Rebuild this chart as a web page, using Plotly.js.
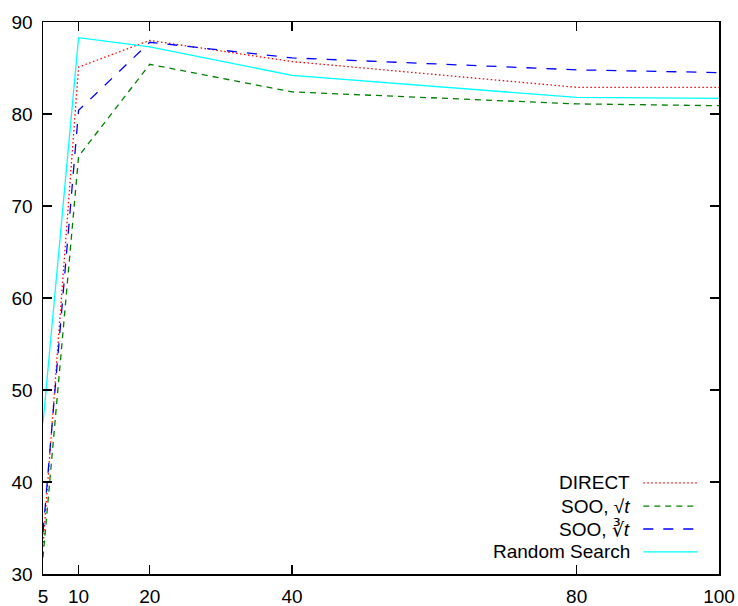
<!DOCTYPE html>
<html><head><meta charset="utf-8">
<script src="https://cdn.plot.ly/plotly-3.0.1.min.js"></script>
<style>html,body{margin:0;padding:0;background:#fff}</style>
</head><body>
<div id="chart" style="width:738px;height:606px"></div>
<script>
const xValues = [5, 10, 20, 40, 80, 100];
const directVals = [33.0, 85.1, 88.0, 85.7, 82.9, 82.9];
const sooSqrtVals = [31.8, 75.4, 85.4, 82.4, 81.1, 80.9];
const sooCbrtVals = [34.5, 80.4, 87.8, 86.1, 84.8, 84.5];
const randomVals = [46.4, 88.3, 87.3, 84.2, 81.8, 81.7];
const seriesNames = ['DIRECT', 'SOO, √<i>t</i>', 'SOO, ∛<i>t</i>', 'Random Search'];
const xTicks = [5, 10, 20, 40, 80, 100];
const yTicks = [30, 40, 50, 60, 70, 80, 90];

const styles = [
  {color: '#ff0000', dash: '1.5px,2.5px', width: 1.3},
  {color: '#008000', dash: '6px,5px', width: 1.3},
  {color: '#0000ff', dash: '10px,10px', width: 1.3},
  {color: '#00ffff', dash: 'solid', width: 1.3}
];
const allVals = [directVals, sooSqrtVals, sooCbrtVals, randomVals];

const traces = allVals.map((v, i) => ({
  x: xValues, y: v, type: 'scatter', mode: 'lines', name: seriesNames[i],
  line: styles[i], showlegend: false
}));

const FONT = 'Liberation Sans, Arial, sans-serif';
const legY = [0.165, 0.123, 0.0815, 0.040];
const annotations = seriesNames.map((n, i) => ({
  xref: 'paper', yref: 'paper', x: 0.872, y: legY[i], xanchor: 'right', yanchor: 'middle',
  text: n, showarrow: false, font: {family: FONT, size: 19, color: '#000'}
}));
const shapes = styles.map((s, i) => ({
  type: 'line', xref: 'paper', yref: 'paper', x0: 0.888, x1: 0.969, y0: legY[i], y1: legY[i],
  line: {color: s.color, dash: s.dash, width: s.width}
}));

const axisCommon = {
  showgrid: false, zeroline: false, showline: true, linecolor: '#000', linewidth: 1.5,
  mirror: 'allticks', ticks: 'inside', ticklen: 9, tickwidth: 1.2, tickcolor: '#000',
  tickfont: {family: FONT, size: 19, color: '#000'}
};

const layout = {
  width: 738, height: 606,
  margin: {l: 43, r: 19, t: 22, b: 32},
  paper_bgcolor: '#fff', plot_bgcolor: '#fff',
  xaxis: Object.assign({}, axisCommon, {range: [5, 100], tickmode: 'array', tickvals: xTicks, ticktext: xTicks.map(String), ticklabelstandoff: 5}),
  yaxis: Object.assign({}, axisCommon, {range: [30, 90], tickmode: 'array', tickvals: yTicks, ticktext: yTicks.map(String), ticklabelstandoff: 5}),
  annotations: annotations, shapes: shapes, showlegend: false
};

Plotly.newPlot('chart', traces, layout, {displayModeBar: false, staticPlot: true});
</script>
</body></html>
